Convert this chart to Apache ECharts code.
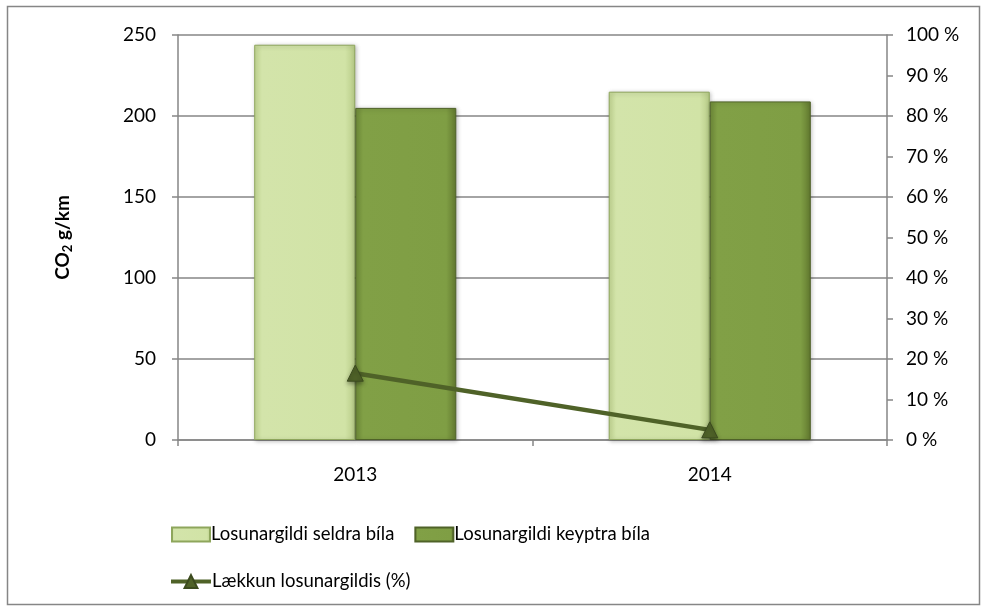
<!DOCTYPE html>
<html>
<head>
<meta charset="utf-8">
<script src="https://cdn.jsdelivr.net/npm/echarts@6/dist/echarts.min.js"></script>
<style>
  html, body { margin: 0; padding: 0; background: #fff; }
  #main { width: 982px; height: 612px; }
</style>
</head>
<body>
<div id="main"></div>
<script>
// gögn
var years = ['2013', '2014'];
var seldra = [244, 215];      // Losunargildi seldra bíla (g/km)
var keyptra = [205, 209];     // Losunargildi keyptra bíla (g/km)
var laekkun = [0.165, 0.025]; // Lækkun losunargildis (%)

var fontName = 'Lato';
var greyAxis = '#868686';

var myChart = echarts.init(document.getElementById('main'));

var option = {
    backgroundColor: '#fff',
    textStyle: { fontFamily: fontName, color: '#000' },
    animation: false,
    graphic: [{
        type: 'rect',
        shape: { x: 7.5, y: 6.5, width: 972, height: 598 },
        style: { fill: 'none', stroke: greyAxis, lineWidth: 1.5 },
        silent: true
    }],
    grid: { left: 178, right: 95, top: 35, bottom: 172 },
    legend: [{
        data: ['Losunargildi seldra bíla', 'Losunargildi keyptra bíla'],
        left: 166, top: 520,
        icon: 'rect',
        itemWidth: 38, itemHeight: 14, itemGap: 20,
        textStyle: { fontSize: 18.5, fontFamily: fontName, color: '#000', padding: [0, 0, 0, -4] }
    }, {
        data: ['Lækkun losunargildis (%)'],
        left: 164, top: 567,
        itemWidth: 40, itemHeight: 16,
        lineStyle: { width: 4 },
        textStyle: { fontSize: 18.5, fontFamily: fontName, color: '#000', padding: [0, 0, 0, -4] }
    }],
    xAxis: {
        type: 'category',
        data: years,
        axisLine: { lineStyle: { color: greyAxis, width: 1.5 } },
        axisTick: { show: true, length: 6, lineStyle: { color: greyAxis, width: 1.5 } },
        axisLabel: { fontSize: 19, color: '#000', margin: 25 }
    },
    yAxis: [{
        type: 'value',
        min: 0, max: 250, interval: 50,
        name: 'CO{sub|2} g/km',
        nameLocation: 'middle',
        nameGap: 104,
        nameTextStyle: {
            fontSize: 19, fontWeight: 'bold', color: '#000',
            rich: { sub: { fontSize: 13, fontWeight: 'bold', padding: [10, 0, 0, 0] } }
        },
        axisLine: { show: true, lineStyle: { color: greyAxis, width: 1.5 } },
        axisTick: { show: true, length: 6, lineStyle: { color: greyAxis, width: 1.5 } },
        axisLabel: { fontSize: 19, color: '#000', margin: 22 },
        splitLine: { lineStyle: { color: greyAxis, width: 1.5 } }
    }, {
        type: 'value',
        min: 0, max: 1, interval: 0.1,
        position: 'right',
        axisLine: { show: true, lineStyle: { color: greyAxis, width: 1.5 } },
        axisTick: { show: true, length: 6, lineStyle: { color: greyAxis, width: 1.5 } },
        axisLabel: {
            fontSize: 19, color: '#000', margin: 19,
            formatter: function (v) { return Math.round(v * 100) + ' %'; }
        },
        splitLine: { show: false }
    }],
    series: [{
        name: 'Losunargildi seldra bíla',
        type: 'bar',
        data: seldra,
        barGap: '0%',
        barCategoryGap: '43%',
        itemStyle: {
            color: new echarts.graphic.LinearGradient(0, 0, 1, 0, [
                { offset: 0, color: '#c4d894' },
                { offset: 0.08, color: '#d3e4aa' },
                { offset: 0.9, color: '#d1e3a6' },
                { offset: 1, color: '#b7cb87' }
            ]),
            borderColor: '#8ea65c', borderWidth: 1,
            shadowColor: 'rgba(0,0,0,0.25)', shadowBlur: 4, shadowOffsetX: 1, shadowOffsetY: 1
        }
    }, {
        name: 'Losunargildi keyptra bíla',
        type: 'bar',
        data: keyptra,
        itemStyle: {
            color: new echarts.graphic.LinearGradient(0, 0, 1, 0, [
                { offset: 0, color: '#6f8b39' },
                { offset: 0.08, color: '#81a046' },
                { offset: 0.9, color: '#7f9e44' },
                { offset: 1, color: '#62792f' }
            ]),
            borderColor: '#4f6228', borderWidth: 1,
            shadowColor: 'rgba(0,0,0,0.25)', shadowBlur: 4, shadowOffsetX: 1, shadowOffsetY: 1
        }
    }, {
        name: 'Lækkun losunargildis (%)',
        type: 'line',
        yAxisIndex: 1,
        data: laekkun,
        symbol: 'triangle',
        symbolSize: 16,
        z: 5,
        lineStyle: { color: '#4f6228', width: 4.5 },
        itemStyle: {
            color: '#4f6228', borderColor: '#3b4a1e', borderWidth: 1,
            shadowColor: 'rgba(0,0,0,0.35)', shadowBlur: 4, shadowOffsetY: 2
        }
    }]
};

myChart.setOption(option);
</script>
</body>
</html>
